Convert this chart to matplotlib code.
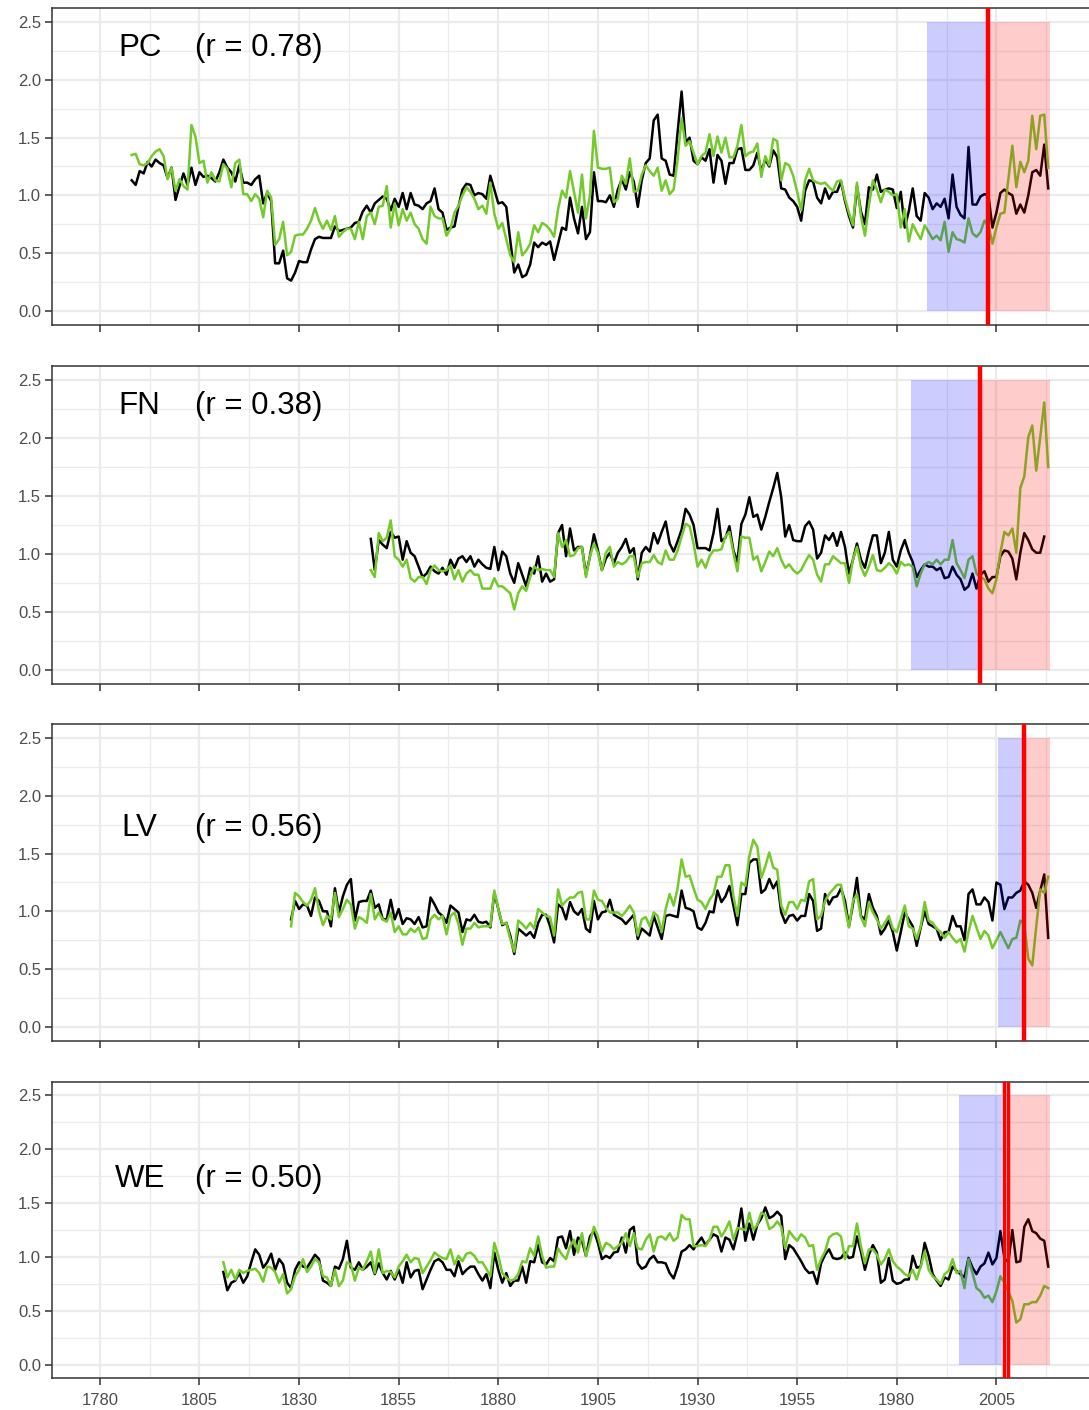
import matplotlib
matplotlib.use('Agg')
import matplotlib.pyplot as plt
import numpy as np
from matplotlib.ticker import FixedLocator, FormatStrFormatter

plt.rcParams['font.family'] = ['Liberation Sans', 'DejaVu Sans']

# ---- data (annual values) ----
sites = ['PC', 'FN', 'LV', 'WE']
r_text = ['(r = 0.78)', '(r = 0.38)', '(r = 0.56)', '(r = 0.50)']
first_year = [1788, 1848, 1828, 1811]

pc_obs = [1.13, 1.09, 1.21, 1.19, 1.29, 1.25, 1.31, 1.28, 1.26, 1.15,
          1.24, 0.96, 1.08, 1.19, 1.09, 1.24, 1.09, 1.20, 1.16, 1.17,
          1.15, 1.12, 1.20, 1.31, 1.24, 1.20, 1.12, 1.26, 1.11, 1.11,
          1.09, 1.14, 1.17, 0.93, 1.02, 0.95, 0.41, 0.41, 0.52, 0.28,
          0.26, 0.33, 0.43, 0.42, 0.42, 0.53, 0.62, 0.64, 0.63, 0.63,
          0.63, 0.73, 0.69, 0.70, 0.71, 0.72, 0.76, 0.77, 0.86, 0.91,
          0.85, 0.93, 0.96, 0.99, 0.97, 0.87, 0.97, 0.90, 1.02, 0.88,
          1.02, 0.92, 0.91, 0.88, 0.93, 0.95, 1.06, 0.88, 0.85, 0.70,
          0.72, 0.73, 0.90, 1.05, 1.10, 1.09, 1.00, 1.02, 1.01, 0.97,
          1.17, 1.05, 0.93, 0.94, 0.90, 0.61, 0.33, 0.40, 0.29, 0.31,
          0.40, 0.59, 0.55, 0.59, 0.57, 0.60, 0.44, 0.58, 0.72, 0.70,
          0.98, 0.80, 0.67, 0.90, 0.62, 0.68, 1.20, 0.95, 0.95, 0.94,
          1.00, 0.90, 1.05, 1.14, 1.05, 1.20, 1.12, 0.90, 1.13, 1.28,
          1.32, 1.65, 1.70, 1.32, 1.30, 1.18, 1.17, 1.55, 1.90, 1.46,
          1.50, 1.30, 1.27, 1.33, 1.30, 1.40, 1.11, 1.35, 1.30, 1.10,
          1.28, 1.28, 1.40, 1.41, 1.22, 1.22, 1.26, 1.37, 1.21, 1.31,
          1.25, 1.39, 1.33, 1.06, 1.05, 0.98, 0.95, 0.90, 0.78, 1.04,
          1.13, 1.12, 0.98, 0.93, 1.06, 0.97, 1.03, 1.03, 1.12, 0.95,
          0.82, 0.72, 1.08, 0.86, 0.75, 1.07, 1.05, 1.18, 1.03, 1.05,
          1.06, 1.05, 0.89, 1.03, 0.72, 0.86, 1.06, 0.82, 0.78, 1.02,
          0.98, 0.88, 0.93, 0.90, 0.97, 0.80, 1.18, 0.90, 0.83, 0.80,
          1.42, 0.92, 0.92, 0.99, 1.01, 1.00, 0.72, 0.85, 1.02, 1.05,
          1.02, 1.00, 0.84, 0.92, 0.85, 1.00, 1.20, 1.22, 1.17, 1.44,
          1.06]
pc_mod = [1.35, 1.36, 1.27, 1.26, 1.28, 1.34, 1.38, 1.40, 1.34, 1.14,
          1.24, 1.04, 1.14, 1.08, 1.05, 1.61, 1.51, 1.28, 1.30, 1.11,
          1.20, 1.13, 1.12, 1.27, 1.23, 1.07, 1.28, 1.31, 1.01, 1.01,
          0.95, 1.01, 0.97, 0.81, 1.04, 0.98, 0.57, 0.62, 0.77, 0.48,
          0.51, 0.65, 0.66, 0.66, 0.71, 0.78, 0.89, 0.78, 0.71, 0.78,
          0.70, 0.82, 0.64, 0.68, 0.71, 0.71, 0.62, 0.77, 0.62, 0.82,
          0.85, 0.75, 0.90, 0.91, 1.08, 0.72, 0.93, 0.74, 0.88, 0.78,
          0.85, 0.75, 0.71, 0.62, 0.58, 0.90, 0.82, 0.80, 0.80, 0.65,
          0.71, 0.85, 0.91, 1.00, 1.07, 1.03, 0.97, 0.88, 0.91, 0.84,
          1.11, 0.84, 0.71, 0.76, 0.62, 0.48, 0.42, 0.68, 0.48, 0.52,
          0.58, 0.74, 0.68, 0.76, 0.74, 0.70, 0.64, 0.88, 1.04, 0.98,
          1.21, 1.03, 0.85, 1.18, 0.80, 1.00, 1.56, 1.24, 1.23, 1.23,
          1.24, 0.94, 0.97, 1.17, 1.10, 1.32, 1.03, 1.04, 1.18, 1.26,
          1.21, 1.17, 1.24, 1.04, 1.13, 1.01, 1.05, 1.31, 1.67, 1.43,
          1.47, 1.37, 1.27, 1.34, 1.37, 1.53, 1.34, 1.51, 1.37, 1.50,
          1.33, 1.33, 1.43, 1.61, 1.34, 1.37, 1.38, 1.45, 1.16, 1.34,
          1.26, 1.49, 1.47, 1.13, 1.28, 1.26, 1.17, 1.03, 0.87, 1.13,
          1.23, 1.13, 1.11, 1.10, 1.11, 1.07, 1.04, 1.12, 1.13, 0.97,
          0.85, 0.74, 1.11, 0.82, 0.65, 0.91, 1.13, 1.05, 0.94, 1.05,
          1.03, 1.00, 1.01, 0.72, 0.88, 0.60, 0.75, 0.68, 0.62, 0.74,
          0.68, 0.62, 0.65, 0.61, 0.77, 0.51, 0.68, 0.62, 0.61, 0.59,
          0.80, 0.67, 0.64, 0.68, 0.78, 0.74, 0.58, 0.72, 0.84, 0.85,
          1.14, 1.43, 1.07, 1.29, 1.20, 1.30, 1.69, 1.40, 1.69, 1.70,
          1.24]

fn_obs = [1.13, 0.86, 1.12, 1.08, 1.05, 1.19, 1.14, 1.15, 0.95, 1.11,
          1.01, 0.98, 0.89, 0.80, 0.83, 0.89, 0.85, 0.83, 0.88, 0.82,
          0.95, 0.88, 0.96, 0.98, 0.93, 0.98, 0.89, 0.95, 0.91, 0.88,
          0.87, 1.06, 0.86, 1.02, 0.98, 0.83, 0.75, 0.92, 0.82, 0.72,
          0.88, 0.83, 0.98, 0.76, 0.83, 0.76, 0.78, 1.18, 1.25, 0.98,
          1.22, 1.03, 1.06, 1.06, 0.82, 0.98, 1.17, 1.03, 0.86, 0.96,
          1.01, 0.92, 1.01, 1.06, 1.13, 1.01, 1.05, 0.78, 1.01, 1.06,
          1.02, 1.18, 1.09, 1.19, 1.28, 1.09, 1.02, 1.11, 1.21, 1.39,
          1.34, 1.25, 1.05, 1.05, 1.05, 1.03, 1.18, 1.39, 1.11, 1.14,
          1.24, 1.03, 0.93, 1.26, 1.34, 1.49, 1.32, 1.34, 1.21, 1.32,
          1.45, 1.57, 1.70, 1.49, 1.15, 1.25, 1.12, 1.11, 1.11, 1.24,
          1.28, 1.21, 0.96, 1.01, 1.16, 1.12, 1.18, 1.07, 1.19, 1.06,
          0.83, 0.95, 1.09, 0.95, 0.88, 1.03, 1.16, 1.16, 0.92, 1.01,
          1.19, 0.95, 0.89, 1.03, 1.12, 1.01, 0.93, 0.80, 0.86, 0.91,
          0.89, 0.89, 0.86, 0.88, 0.79, 0.80, 0.89, 0.82, 0.78, 0.69,
          0.72, 0.83, 0.70, 0.82, 0.85, 0.76, 0.80, 0.80, 0.98, 1.03,
          1.02, 0.96, 0.78, 1.01, 1.18, 1.12, 1.04, 1.01, 1.01, 1.15]
fn_mod = [0.86, 0.80, 1.18, 1.11, 1.14, 1.29, 0.98, 0.95, 0.89, 0.95,
          0.79, 0.76, 0.80, 0.80, 0.74, 0.86, 0.90, 0.86, 0.85, 0.86,
          0.90, 0.78, 0.86, 0.76, 0.83, 0.86, 0.82, 0.82, 0.70, 0.70,
          0.70, 0.79, 0.72, 0.72, 0.69, 0.66, 0.52, 0.66, 0.72, 0.68,
          0.80, 0.89, 0.86, 0.87, 0.86, 0.86, 0.80, 1.18, 1.06, 1.12,
          0.98, 0.99, 1.05, 1.06, 0.80, 0.98, 1.09, 1.01, 0.86, 1.01,
          1.06, 0.89, 0.93, 0.91, 0.93, 0.98, 0.98, 0.80, 0.92, 0.93,
          0.93, 0.99, 0.93, 0.91, 1.03, 0.95, 0.95, 1.03, 1.15, 1.26,
          1.24, 1.09, 0.89, 0.95, 0.88, 0.98, 1.03, 1.03, 1.04, 1.15,
          1.19, 1.01, 0.85, 1.15, 1.14, 1.14, 0.95, 0.98, 0.85, 0.93,
          1.02, 0.98, 1.05, 0.95, 0.88, 0.91, 0.86, 0.83, 0.86, 0.93,
          0.99, 0.95, 0.82, 0.76, 0.91, 0.91, 0.98, 0.95, 0.92, 0.92,
          0.75, 0.95, 1.06, 0.89, 0.81, 0.89, 0.99, 0.86, 0.85, 0.88,
          0.92, 0.89, 0.83, 0.93, 0.90, 0.91, 0.89, 0.72, 0.83, 0.91,
          0.93, 0.91, 0.95, 0.91, 0.95, 0.95, 1.12, 0.92, 0.86, 0.79,
          0.95, 0.98, 0.83, 0.80, 0.78, 0.70, 0.66, 0.78, 1.01, 1.19,
          1.16, 1.22, 1.01, 1.57, 1.67, 2.01, 2.11, 1.72, 2.01, 2.31,
          1.75]

lv_obs = [0.93, 1.09, 1.02, 1.06, 1.05, 0.96, 1.12, 1.09, 1.00, 1.00,
          0.87, 1.20, 0.99, 1.13, 1.23, 1.28, 0.92, 1.08, 1.09, 1.09,
          1.18, 1.03, 1.06, 0.93, 0.93, 1.10, 0.93, 1.02, 0.89, 0.94,
          0.93, 0.89, 0.95, 0.86, 0.87, 1.12, 1.06, 0.99, 0.96, 0.90,
          1.05, 1.02, 0.99, 0.82, 0.93, 0.92, 0.97, 0.91, 0.90, 0.91,
          0.86, 1.16, 1.02, 0.88, 0.90, 0.79, 0.63, 0.85, 0.82, 0.79,
          0.82, 0.77, 0.90, 0.97, 0.97, 0.87, 0.73, 1.06, 1.03, 0.93,
          1.08, 1.00, 0.97, 1.02, 0.85, 0.82, 1.09, 0.93, 0.99, 1.00,
          1.10, 0.97, 0.95, 0.93, 0.89, 0.93, 0.97, 0.76, 0.85, 0.82,
          0.79, 0.96, 0.86, 0.76, 0.96, 0.97, 0.96, 0.95, 1.18, 1.03,
          1.02, 1.00, 0.86, 0.84, 0.90, 1.00, 0.99, 1.18, 1.08, 1.13,
          1.22, 1.05, 0.88, 1.15, 1.15, 1.42, 1.45, 1.45, 1.16, 1.19,
          1.28, 1.20, 1.26, 0.99, 0.90, 0.96, 0.97, 0.92, 0.96, 0.96,
          1.15, 1.09, 0.83, 0.85, 1.15, 1.06, 1.12, 1.13, 1.20, 1.09,
          0.87, 1.06, 1.29, 0.96, 0.93, 1.15, 1.03, 0.96, 0.80, 0.85,
          0.92, 0.82, 0.66, 0.82, 0.99, 0.93, 0.87, 0.70, 0.86, 1.00,
          0.89, 0.87, 0.85, 0.75, 0.82, 0.82, 0.96, 0.87, 0.87, 0.75,
          1.15, 1.19, 1.06, 1.06, 1.12, 1.08, 0.92, 1.25, 1.23, 1.02,
          1.12, 1.12, 1.16, 1.18, 1.26, 1.23, 1.16, 1.03, 1.18, 1.32,
          0.77]
lv_mod = [0.87, 1.16, 1.13, 1.08, 1.05, 1.10, 1.20, 1.00, 0.88, 0.96,
          0.93, 1.16, 0.95, 1.02, 1.10, 1.06, 0.85, 0.95, 0.93, 0.90,
          1.15, 0.93, 0.99, 0.93, 0.91, 0.99, 0.82, 0.87, 0.80, 0.80,
          0.85, 0.82, 0.86, 0.76, 0.77, 0.93, 0.97, 0.93, 0.96, 0.80,
          0.96, 0.99, 0.89, 0.71, 0.85, 0.85, 0.90, 0.86, 0.87, 0.87,
          0.87, 1.18, 1.02, 0.89, 0.90, 0.76, 0.65, 0.92, 0.89, 0.85,
          0.90, 0.85, 1.02, 0.99, 0.96, 0.95, 0.79, 1.19, 1.05, 1.09,
          1.12, 1.12, 1.16, 1.17, 0.93, 0.93, 1.18, 1.10, 1.09, 1.03,
          0.99, 0.99, 0.99, 0.96, 1.00, 1.05, 0.99, 0.79, 0.93, 0.95,
          0.87, 0.99, 0.96, 0.82, 1.02, 1.15, 1.05, 1.20, 1.45, 1.30,
          1.31, 1.20, 1.10, 1.08, 1.02, 1.10, 1.15, 1.30, 1.30, 1.40,
          1.40, 1.13, 0.96, 1.25, 1.22, 1.48, 1.62, 1.56, 1.29, 1.39,
          1.51, 1.38, 1.36, 1.05, 0.97, 1.08, 1.08, 1.02, 1.10, 1.09,
          1.26, 1.28, 0.93, 0.96, 1.09, 1.15, 1.19, 1.23, 1.23, 1.03,
          0.86, 1.09, 1.15, 0.95, 0.87, 1.08, 0.99, 0.93, 0.85, 0.90,
          0.96, 0.85, 0.82, 0.93, 1.05, 0.87, 0.85, 0.76, 0.87, 1.08,
          0.92, 0.90, 0.85, 0.82, 0.77, 0.82, 0.77, 0.73, 0.76, 0.65,
          0.82, 0.96, 0.86, 0.76, 0.83, 0.79, 0.68, 0.75, 0.82, 0.75,
          0.68, 0.76, 0.77, 0.92, 0.89, 0.59, 0.53, 0.87, 1.19, 1.16,
          1.30]

we_obs = [0.86, 0.69, 0.76, 0.78, 0.85, 0.76, 0.82, 0.95, 1.07, 1.02,
          0.90, 0.95, 1.03, 0.88, 0.98, 0.93, 0.76, 0.71, 0.88, 0.95,
          0.91, 0.90, 0.96, 1.02, 0.98, 0.78, 0.76, 0.73, 0.91, 0.89,
          0.98, 1.15, 0.90, 0.88, 0.95, 0.88, 0.91, 0.95, 0.84, 0.94,
          0.85, 0.79, 0.87, 0.79, 0.88, 0.76, 0.95, 0.81, 0.87, 0.88,
          0.70, 0.79, 0.88, 0.96, 0.98, 0.95, 0.88, 0.88, 0.82, 0.96,
          0.84, 0.88, 0.91, 0.91, 0.84, 0.78, 0.84, 0.71, 1.04, 0.88,
          0.76, 0.85, 0.73, 0.78, 0.78, 0.91, 0.76, 0.96, 0.95, 1.11,
          0.95, 0.93, 0.99, 0.96, 1.18, 1.19, 1.08, 1.24, 1.02, 1.18,
          1.15, 1.01, 1.19, 1.24, 1.13, 0.98, 1.01, 0.99, 1.04, 1.05,
          1.18, 1.04, 1.25, 1.28, 0.94, 0.89, 0.91, 0.98, 1.01, 0.95,
          0.95, 0.94, 0.85, 0.80, 0.91, 1.05, 1.07, 1.11, 1.07, 1.13,
          1.18, 1.11, 1.16, 1.21, 1.19, 1.05, 1.18, 1.16, 1.07, 1.22,
          1.45, 1.15, 1.31, 1.16, 1.30, 1.36, 1.46, 1.36, 1.38, 1.42,
          1.38, 0.98, 1.11, 1.08, 1.02, 0.96, 0.89, 0.85, 0.86, 0.75,
          0.94, 1.02, 1.07, 0.99, 0.98, 0.99, 1.04, 0.99, 1.00, 1.19,
          1.05, 0.88, 1.02, 1.11, 1.04, 0.76, 0.79, 0.99, 0.78, 0.75,
          0.76, 0.79, 0.79, 1.01, 0.90, 0.91, 1.13, 1.01, 0.84, 0.78,
          0.73, 0.81, 0.79, 0.91, 0.87, 0.84, 0.81, 0.99, 0.90, 0.84,
          0.91, 0.94, 1.04, 0.93, 0.99, 1.24, 0.99, 0.95, 1.25, 0.95,
          0.96, 1.28, 1.35, 1.24, 1.22, 1.17, 1.15, 0.91]
we_mod = [0.95, 0.81, 0.88, 0.79, 0.88, 0.85, 0.87, 0.88, 0.89, 0.85,
          0.77, 0.91, 0.90, 0.86, 0.76, 0.84, 0.66, 0.70, 0.82, 0.88,
          0.98, 0.86, 0.91, 0.98, 0.95, 0.82, 0.81, 0.73, 0.88, 0.73,
          0.78, 0.95, 0.93, 0.78, 0.90, 0.88, 0.96, 1.05, 0.85, 1.07,
          0.85, 0.87, 0.86, 0.81, 0.91, 0.96, 1.02, 0.95, 0.99, 0.98,
          0.85, 0.91, 0.97, 1.04, 1.01, 0.99, 0.98, 1.07, 0.93, 1.01,
          0.96, 1.03, 1.04, 1.01, 0.95, 0.95, 0.89, 0.82, 1.13, 1.01,
          0.85, 0.81, 0.78, 0.79, 0.84, 0.96, 0.95, 1.08, 1.01, 1.19,
          1.01, 0.90, 0.91, 0.91, 1.08, 1.02, 0.98, 1.10, 1.16, 1.04,
          1.22, 1.01, 1.13, 1.28, 1.19, 1.05, 1.13, 1.11, 1.07, 1.10,
          1.13, 1.22, 1.10, 1.22, 1.08, 1.07, 1.16, 1.21, 1.05, 1.18,
          1.19, 1.16, 1.22, 1.15, 1.18, 1.39, 1.35, 1.35, 1.10, 1.10,
          1.11, 1.10, 1.16, 1.28, 1.28, 1.19, 1.25, 1.33, 1.16, 1.27,
          1.26, 1.25, 1.41, 1.25, 1.30, 1.41, 1.39, 1.26, 1.28, 1.33,
          1.28, 1.08, 1.24, 1.19, 1.15, 1.21, 1.18, 1.10, 1.11, 0.88,
          0.98, 1.05, 1.18, 1.21, 1.22, 1.19, 0.98, 1.10, 1.10, 1.31,
          1.10, 0.94, 1.07, 1.07, 1.02, 0.93, 0.98, 1.07, 0.96, 0.91,
          0.88, 0.84, 0.82, 0.88, 0.79, 0.91, 1.05, 0.88, 0.82, 0.79,
          0.75, 0.84, 0.87, 0.98, 0.85, 0.87, 0.71, 0.98, 0.85, 0.71,
          0.68, 0.62, 0.64, 0.58, 0.68, 0.82, 0.76, 0.68, 0.59, 0.39,
          0.42, 0.56, 0.56, 0.58, 0.58, 0.64, 0.73, 0.71]

obs_series = [pc_obs, fn_obs, lv_obs, we_obs]
mod_series = [pc_mod, fn_mod, lv_mod, we_mod]

# calibration (blue) / verification (red) windows and break years
blue_window = [(1987.5, 2002.5), (1983.5, 2000.5), (2005.5, 2011.5), (1995.5, 2006.5)]
red_window = [(2003.5, 2018.5), (2001.5, 2018.5), (2012.5, 2018.5), (2008.5, 2018.5)]
break_years = [[2003], [2001], [2012], [2007, 2008]]

# ---- layout (pixels of the 1089 x 1410 canvas) ----
W, H = 1089, 1410
panel_top = [8, 366, 724, 1082]
panel_bottom = [325, 684, 1041, 1378]
label_base = [2.21, 2.21, 1.65, 1.65]   # text baseline, data units

green = '#74c92b'
grid_col = '#EBEBEB'
dark = '#333333'

fig = plt.figure(figsize=(W / 100, H / 100), dpi=100)

for i in range(4):
    top, bot = panel_top[i], panel_bottom[i]
    ax = fig.add_axes([52 / W, 1 - bot / H, 1052 / W, (bot - top) / H])

    yrs_obs = np.arange(first_year[i], first_year[i] + len(obs_series[i]))
    yrs_mod = np.arange(first_year[i], first_year[i] + len(mod_series[i]))
    ax.plot(yrs_obs, obs_series[i], color='black', lw=1.8, zorder=3)
    ax.plot(yrs_mod, mod_series[i], color=green, lw=1.8, zorder=3)

    b0, b1 = blue_window[i]
    ax.fill_between([b0, b1], 0, 2.5, color='blue', alpha=0.2, lw=0, zorder=4)
    r0, r1 = red_window[i]
    ax.fill_between([r0, r1], 0, 2.5, color='red', alpha=0.2, lw=0, zorder=4)
    lw_red = 3.2 if len(break_years[i]) == 1 else 2.5
    for yb in break_years[i]:
        ax.axvline(yb, color='red', lw=lw_red, zorder=5)

    ax.text(1790, label_base[i], sites[i], ha='center', va='baseline', fontsize=22.5)
    ax.text(1820, label_base[i], r_text[i], ha='center', va='baseline', fontsize=22.5)

    ax.set_xlim(1768, 2032)
    ax.set_ylim(-0.125, 2.625)
    ax.xaxis.set_major_locator(FixedLocator(np.arange(1780, 2006, 25)))
    ax.xaxis.set_minor_locator(FixedLocator(np.arange(1767.5, 2032, 25)))
    ax.yaxis.set_major_locator(FixedLocator(np.arange(0, 2.51, 0.5)))
    ax.yaxis.set_minor_locator(FixedLocator(np.arange(0.25, 2.5, 0.5)))
    ax.yaxis.set_major_formatter(FormatStrFormatter('%.1f'))

    ax.set_axisbelow(True)
    ax.grid(which='major', color=grid_col, lw=1.6, zorder=0)
    ax.grid(which='minor', color=grid_col, lw=0.9, zorder=0)

    ax.tick_params(which='major', length=5, width=1.1, color=dark,
                   labelcolor='#4D4D4D', labelsize=12)
    ax.tick_params(axis='x', pad=6)
    ax.tick_params(axis='y', pad=3)
    ax.tick_params(which='minor', length=0)
    if i < 3:
        ax.tick_params(axis='x', labelbottom=False)
    for sp in ax.spines.values():
        sp.set_color(dark)
        sp.set_linewidth(1.1)

fig.savefig('out.png', dpi=100)
